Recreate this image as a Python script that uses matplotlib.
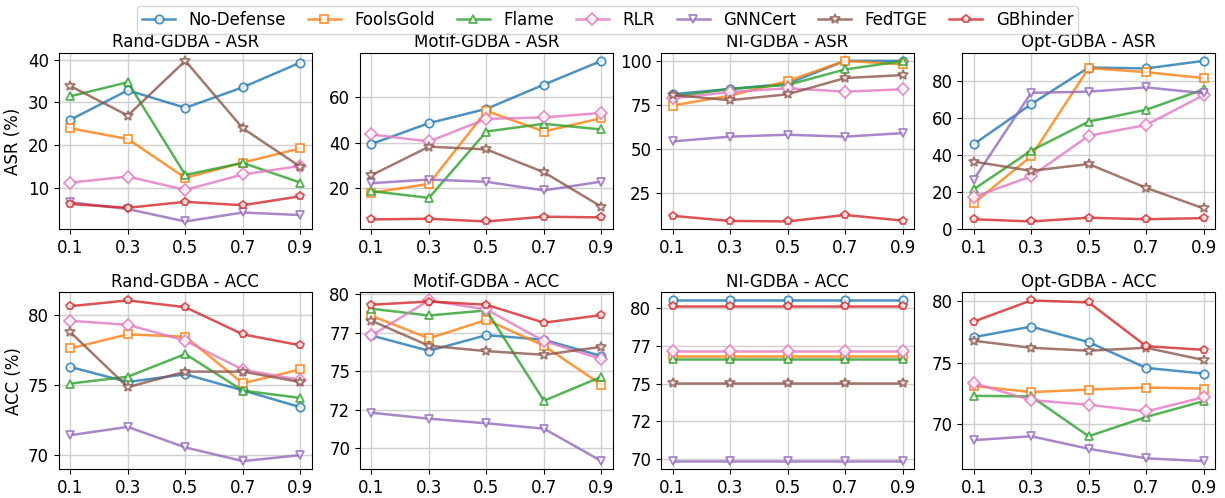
"""
Attack success rate / clean accuracy vs. malicious ratio for 4 GDBA variants.
"""

import matplotlib
matplotlib.use("Agg")
import matplotlib.pyplot as plt
from matplotlib.ticker import FuncFormatter

ratios = [0.1, 0.3, 0.5, 0.7, 0.9]
methods = ["No-Defense", "FoolsGold", "Flame", "RLR", "GNNCert", "FedTGE", "GBhinder"]
attacks = ["Rand-GDBA", "Motif-GDBA", "NI-GDBA", "Opt-GDBA"]

# ASR (%) per attack, one list per method (same order as `methods`)
asr_rand = [
    [25.9, 32.8, 28.7, 33.5, 39.3],
    [23.9, 21.4, 12.3, 15.9, 19.2],
    [31.4, 34.7, 13.0, 15.8, 11.2],
    [11.2, 12.6, 9.5, 13.1, 15.1],
    [6.6, 5.0, 2.1, 4.2, 3.6],
    [33.8, 26.9, 39.7, 23.9, 14.9],
    [6.2, 5.3, 6.7, 5.9, 8.0],
]
asr_motif = [
    [39.4, 48.6, 54.9, 65.6, 76.1],
    [17.8, 21.8, 54.0, 44.9, 50.8],
    [18.6, 15.6, 44.9, 48.3, 45.8],
    [43.6, 40.5, 50.5, 51.1, 53.1],
    [22.1, 23.7, 22.7, 18.9, 22.8],
    [25.6, 38.2, 37.0, 26.9, 11.7],
    [6.1, 6.4, 5.2, 7.3, 7.0],
]
asr_ni = [
    [81.0, 84.0, 87.0, 100.0, 100.0],
    [74.6, 80.2, 88.5, 100.0, 98.0],
    [79.7, 84.0, 86.3, 95.1, 99.8],
    [78.7, 82.3, 84.4, 82.5, 83.8],
    [54.2, 56.9, 58.0, 56.9, 58.9],
    [80.6, 77.6, 81.0, 90.2, 91.9],
    [11.9, 9.0, 8.7, 12.4, 9.2],
]
asr_opt = [
    [45.8, 67.4, 87.1, 86.6, 90.7],
    [14.1, 39.4, 86.8, 84.6, 81.4],
    [21.6, 42.4, 58.0, 64.4, 75.3],
    [17.4, 28.6, 50.4, 56.2, 72.3],
    [26.8, 73.5, 74.1, 76.4, 73.3],
    [36.5, 31.5, 35.2, 22.4, 11.3],
    [5.5, 4.3, 6.3, 5.5, 6.1],
]

# ACC (%)
acc_rand = [
    [76.29, 75.22, 75.77, 74.63, 73.43],
    [77.61, 78.61, 78.44, 75.13, 76.12],
    [75.11, 75.60, 77.21, 74.61, 74.09],
    [79.57, 79.29, 78.16, 76.10, 75.37],
    [71.44, 72.03, 70.57, 69.60, 70.02],
    [78.77, 74.85, 75.96, 75.96, 75.22],
    [80.61, 81.02, 80.54, 78.61, 77.83],
]
acc_motif = [
    [77.33, 76.33, 77.35, 77.05, 75.99],
    [78.61, 77.14, 78.35, 76.66, 74.12],
    [79.07, 78.63, 78.96, 73.08, 74.64],
    [77.33, 79.61, 79.02, 76.96, 75.79],
    [72.30, 71.91, 71.61, 71.26, 69.15],
    [78.29, 76.66, 76.31, 76.07, 76.59],
    [79.33, 79.54, 79.33, 78.16, 78.66],
]
acc_ni = [
    [80.48] * 5,
    [76.85] * 5,
    [76.63] * 5,
    [77.13] * 5,
    [69.89] * 5,
    [75.07] * 5,
    [80.09] * 5,
]
acc_opt = [
    [77.06, 77.92, 76.66, 74.56, 74.10],
    [73.10, 72.59, 72.80, 72.96, 72.88],
    [72.29, 72.24, 69.00, 70.57, 71.86],
    [73.32, 71.94, 71.56, 71.02, 72.18],
    [68.68, 69.00, 67.98, 67.20, 66.98],
    [76.77, 76.20, 75.96, 76.20, 75.20],
    [78.33, 80.05, 79.89, 76.33, 76.03],
]

COLORS = ["tab:blue", "tab:orange", "tab:green", "tab:pink", "tab:purple", "tab:brown", "tab:red"]
MARKERS = ["o", "s", "^", "D", "v", "*", "p"]

ASR_TICKS = [[10, 20, 30, 40], [20, 40, 60], [25, 50, 75, 100], [0, 20, 40, 60, 80]]
ACC_TICKS = [[70, 75, 80], [70, 72.5, 75, 77.5, 80], [70, 72.5, 75, 77.5, 80], [70, 75, 80]]

plt.rcParams["font.family"] = "DejaVu Sans"

fig, axes = plt.subplots(2, 4, figsize=(12.25, 4.98), dpi=100)
fig.subplots_adjust(left=0.048, right=0.992, top=0.894, bottom=0.058,
                    wspace=0.19, hspace=0.356)

rows = [(asr_rand, asr_motif, asr_ni, asr_opt), (acc_rand, acc_motif, acc_ni, acc_opt)]
metrics = ["ASR", "ACC"]
tick_sets = [ASR_TICKS, ACC_TICKS]

handles = []
for r, (panel_data, metric, ticks) in enumerate(zip(rows, metrics, tick_sets)):
    for c, (attack, series) in enumerate(zip(attacks, panel_data)):
        ax = axes[r, c]
        for k, vals in enumerate(series):
            star = MARKERS[k] == "*"
            (ln,) = ax.plot(
                ratios, vals,
                color=COLORS[k], marker=MARKERS[k], linewidth=1.8, alpha=0.8,
                markersize=7 if star else 6,
                markerfacecolor="white", markeredgecolor=COLORS[k],
                markeredgewidth=1.3, label=methods[k],
            )
            if r == 0 and c == 0:
                handles.append(ln)
        ax.set_title(f"{attack} - {metric}", fontsize=12, pad=4)
        ax.set_xticks(ratios)
        ax.set_yticks(ticks[c])
        ax.yaxis.set_major_formatter(FuncFormatter(lambda v, p: f"{int(v)}"))
        ax.tick_params(labelsize=12)
        ax.grid(True, color="#d0d0d0", linewidth=1.0)
        ax.set_axisbelow(True)
        if c == 0:
            ax.set_ylabel(f"{metric} (%)", fontsize=12)

fig.legend(handles, methods, loc="upper center", bbox_to_anchor=(0.496, 1.005),
           ncol=7, fontsize=12, frameon=True, handlelength=2.0,
           columnspacing=1.3, borderpad=0.3)

fig.savefig("out.png", dpi=100)
